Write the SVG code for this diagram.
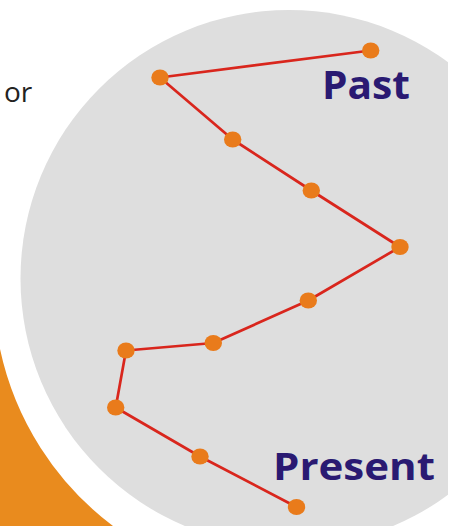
<svg xmlns="http://www.w3.org/2000/svg" width="451" height="526" viewBox="0 0 451 526">
  <defs>
    <clipPath id="cut"><rect x="0" y="0" width="448" height="526"/></clipPath>
    <style>
      .dot { fill: #e97b1b; }
      .lbl { font-family: "Open Sans", "Liberation Sans", sans-serif; font-weight: bold; fill: #2a1a72; }
      .side { font-family: "Open Sans", "Liberation Sans", sans-serif; fill: #222222; }
    </style>
  </defs>
  <rect width="451" height="526" fill="#ffffff"/>
  <g id="background">
    <path d="M0,349 A300,300 0 0 0 113,526 L0,526 Z" fill="#e98b1e"/>
    <circle cx="289" cy="278.5" r="268.5" fill="#dedede" clip-path="url(#cut)"/>
  </g>
  <text class="side" x="4" y="102" font-size="28">or</text>
  <g id="connectors">
    <polyline points="370.7,50.5 160,77.5 232.7,139.5 311.3,190.5 400,247 308.3,300.5 213.3,343 126,350.5 115.7,407.5 200,456.5 296.5,507" fill="none" stroke="#d9261d" stroke-width="2.7" stroke-linejoin="round"/>
  </g>
  <g id="nodes">
    <g id="n1"><ellipse class="dot" cx="370.7" cy="50.5" rx="8.7" ry="8"/></g>
    <g id="n2"><ellipse class="dot" cx="160" cy="77.5" rx="8.7" ry="8"/></g>
    <g id="n3"><ellipse class="dot" cx="232.7" cy="139.5" rx="8.7" ry="8"/></g>
    <g id="n4"><ellipse class="dot" cx="311.3" cy="190.5" rx="8.7" ry="8"/></g>
    <g id="n5"><ellipse class="dot" cx="400" cy="247" rx="8.7" ry="8"/></g>
    <g id="n6"><ellipse class="dot" cx="308.3" cy="300.5" rx="8.7" ry="8"/></g>
    <g id="n7"><ellipse class="dot" cx="213.3" cy="343" rx="8.7" ry="8"/></g>
    <g id="n8"><ellipse class="dot" cx="126" cy="350.5" rx="8.7" ry="8"/></g>
    <g id="n9"><ellipse class="dot" cx="115.7" cy="407.5" rx="8.7" ry="8"/></g>
    <g id="n10"><ellipse class="dot" cx="200" cy="456.5" rx="8.7" ry="8"/></g>
    <g id="n11"><ellipse class="dot" cx="296.5" cy="507" rx="8.7" ry="8"/></g>
  </g>
  <g id="labels">
    <text class="lbl" x="322" y="98.5" font-size="39" textLength="88" lengthAdjust="spacingAndGlyphs">Past</text>
    <text class="lbl" x="273" y="479.5" font-size="38" textLength="162" lengthAdjust="spacingAndGlyphs">Present</text>
  </g>
</svg>
